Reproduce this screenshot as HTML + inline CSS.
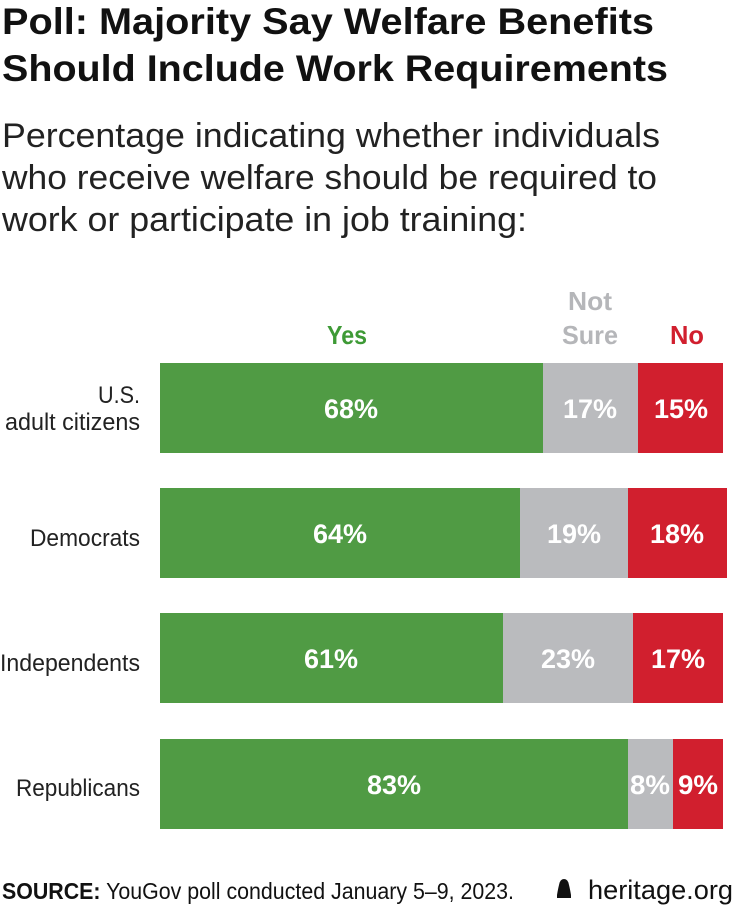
<!DOCTYPE html>
<html><head><meta charset="utf-8"><style>
html,body{margin:0;padding:0;background:#fff;}
svg{display:block;font-family:"Liberation Sans",sans-serif;}
</style></head><body>
<svg width="734" height="911" viewBox="0 0 734 911">
<g font-weight="bold" font-size="37" fill="#111">
<text x="2" y="34" textLength="652" lengthAdjust="spacingAndGlyphs">Poll: Majority Say Welfare Benefits</text>
<text x="2" y="81" textLength="666" lengthAdjust="spacingAndGlyphs">Should Include Work Requirements</text>
</g>
<g font-size="34" fill="#222">
<text x="2" y="147" textLength="658" lengthAdjust="spacingAndGlyphs">Percentage indicating whether individuals</text>
<text x="2" y="189" textLength="655" lengthAdjust="spacingAndGlyphs">who receive welfare should be required to</text>
<text x="2" y="231" textLength="525" lengthAdjust="spacingAndGlyphs">work or participate in job training:</text>
</g>
<g font-size="26" font-weight="bold" text-anchor="middle">
<text x="347" y="344" fill="#3e9a36" textLength="40" lengthAdjust="spacingAndGlyphs">Yes</text>
<text x="590" y="310" fill="#b5b6b9" textLength="44" lengthAdjust="spacingAndGlyphs">Not</text>
<text x="590" y="344" fill="#b5b6b9" textLength="56" lengthAdjust="spacingAndGlyphs">Sure</text>
<text x="687" y="344" fill="#d11f2e" textLength="34" lengthAdjust="spacingAndGlyphs">No</text>
</g>
<g font-size="24" fill="#222" text-anchor="end">
<text x="140" y="403" textLength="42" lengthAdjust="spacingAndGlyphs">U.S.</text>
<text x="140" y="430" textLength="135" lengthAdjust="spacingAndGlyphs">adult citizens</text>
<text x="140" y="546" textLength="110" lengthAdjust="spacingAndGlyphs">Democrats</text>
<text x="140" y="671" textLength="140" lengthAdjust="spacingAndGlyphs">Independents</text>
<text x="140" y="796" textLength="124" lengthAdjust="spacingAndGlyphs">Republicans</text>
</g>
<g>
<rect x="160" y="363" width="383" height="90" fill="#509b44"/><rect x="543" y="363" width="95" height="90" fill="#babbbe"/><rect x="638" y="363" width="85" height="90" fill="#d11f2e"/>
<rect x="160" y="488" width="360" height="90" fill="#509b44"/><rect x="520" y="488" width="108" height="90" fill="#babbbe"/><rect x="628" y="488" width="99" height="90" fill="#d11f2e"/>
<rect x="160" y="613" width="343" height="90" fill="#509b44"/><rect x="503" y="613" width="130" height="90" fill="#babbbe"/><rect x="633" y="613" width="90" height="90" fill="#d11f2e"/>
<rect x="160" y="739" width="468" height="90" fill="#509b44"/><rect x="628" y="739" width="45" height="90" fill="#babbbe"/><rect x="673" y="739" width="50" height="90" fill="#d11f2e"/>
</g>
<g font-size="27" font-weight="bold" fill="#fff" text-anchor="middle">
<text x="351" y="418">68%</text><text x="590" y="418">17%</text><text x="681" y="418">15%</text>
<text x="340" y="543">64%</text><text x="574" y="543">19%</text><text x="677" y="543">18%</text>
<text x="331" y="668">61%</text><text x="568" y="668">23%</text><text x="678" y="668">17%</text>
<text x="394" y="794">83%</text><text x="650" y="794" textLength="40" lengthAdjust="spacingAndGlyphs">8%</text><text x="698" y="794" textLength="40" lengthAdjust="spacingAndGlyphs">9%</text>
</g>
<g font-size="23" fill="#111">
<text x="2" y="899" textLength="512" lengthAdjust="spacingAndGlyphs"><tspan font-weight="bold">SOURCE:</tspan> YouGov poll conducted January 5–9, 2023.</text>
<text x="733" y="899" text-anchor="end" font-size="27" textLength="145" lengthAdjust="spacingAndGlyphs">heritage.org</text>
</g>
<path d="M557 898 L557 895 Q558 889 559 885 Q560 879 564 879 Q568 879 569 885 Q570 889 571 895 L571 898 Z" fill="#111"/>
</svg>
</body></html>
